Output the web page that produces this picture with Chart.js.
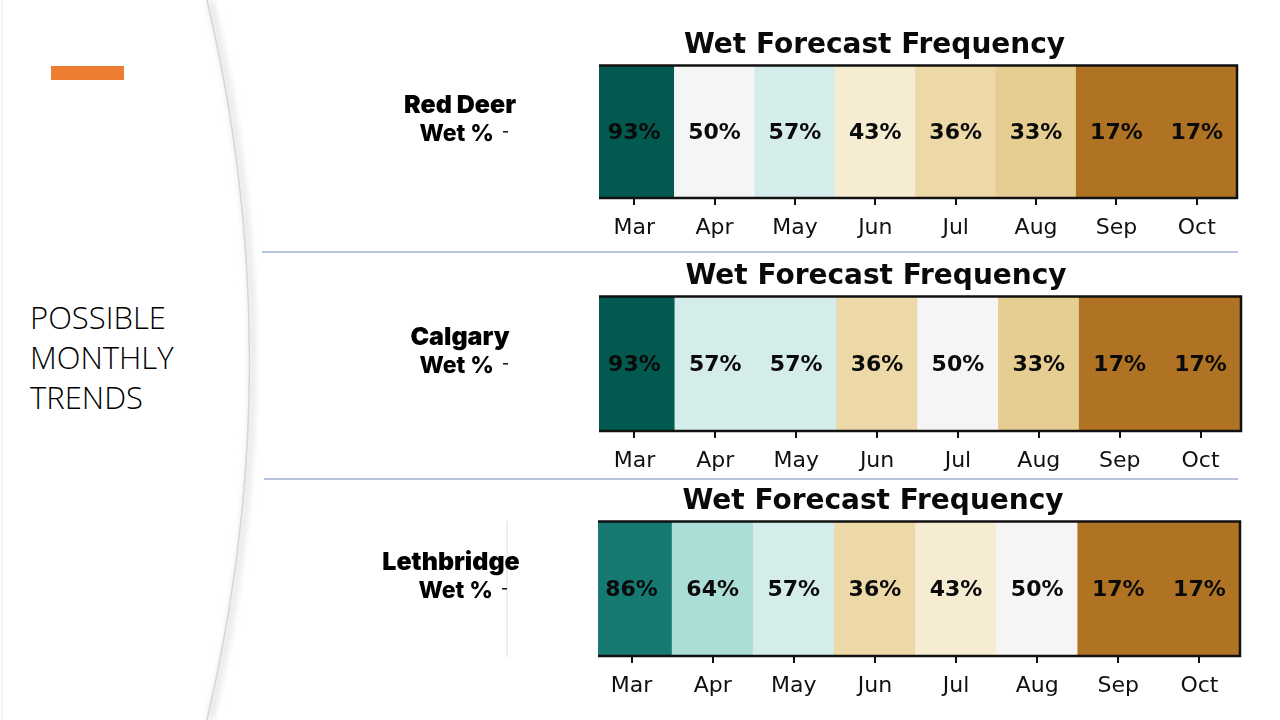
<!DOCTYPE html>
<html>
<head>
<meta charset="utf-8">
<script src="https://cdn.jsdelivr.net/npm/chart.js@4.4.1/dist/chart.umd.min.js"></script>
<style>
  body { margin: 0; width: 1280px; height: 720px; overflow: hidden; background: #fff; position: relative; }
  #deco { position: absolute; left: 0; top: 0; }
  #side { position: absolute; left: 30px; top: 297px; font-family: 'Open Sans', sans-serif; font-weight: 300;
          font-size: 31px; line-height: 40px; color: #000; }
  canvas.row { position: absolute; left: 370px; }
</style>
</head>
<body>
<svg id="deco" width="1280" height="720">
  <defs>
    <filter id="soft" x="-50%" y="-10%" width="200%" height="120%">
      <feGaussianBlur stdDeviation="3"/>
    </filter>
  </defs>
  <line x1="2" y1="0" x2="2" y2="720" stroke="#ececec" stroke-width="1"/>
  <path d="M 210 0 Q 295 360 210 720" fill="none" stroke="#e4e4e4" stroke-width="6" filter="url(#soft)"/>
  <path d="M 207 0 Q 292 360 207 720" fill="none" stroke="#d6d6d6" stroke-width="1.5"/>
  <rect x="51" y="66" width="73" height="14" fill="#ed7d31"/>
  <line x1="262" y1="252" x2="1238" y2="252" stroke="#9fb0cc" stroke-width="1.3"/>
  <line x1="264" y1="479" x2="1238" y2="479" stroke="#9fb0cc" stroke-width="1.3"/>
  <line x1="507" y1="521" x2="507" y2="657" stroke="#dcdcdc" stroke-width="1"/>
</svg>
<div id="side">POSSIBLE<br>MONTHLY<br>TRENDS</div>
<canvas id="c0" class="row" width="910" height="230" style="top:20px"></canvas>
<canvas id="c1" class="row" width="910" height="230" style="top:251px"></canvas>
<canvas id="c2" class="row" width="910" height="230" style="top:476px"></canvas>
<script>
// Data
const months = ['Mar', 'Apr', 'May', 'Jun', 'Jul', 'Aug', 'Sep', 'Oct'];
const cities = ['Red Deer', 'Calgary', 'Lethbridge'];
const redDeerWet = [93, 50, 57, 43, 36, 33, 17, 17];
const calgaryWet = [93, 57, 57, 36, 50, 33, 17, 17];
const lethbridgeWet = [86, 64, 57, 36, 43, 50, 17, 17];
const rowLabel = 'Wet %';
const chartTitle = 'Wet Forecast Frequency';

const wetSeries = [redDeerWet, calgaryWet, lethbridgeWet];

// Layout per row. The source images were cropped a few px into the first
// column, so 'cut' hides that sliver (and the left frame edge).
const rowLayout = [
  { padLeft: 142, padRight: 43, axisWidth: 82, padBottom: 7, cityX: 460, cut: 5 },
  { padLeft: 141, padRight: 39, axisWidth: 83, padBottom: 5, cityX: 460, cut: 5 },
  { padLeft: 136, padRight: 40, axisWidth: 85, padBottom: 5, cityX: 451, cut: 7 }
];

// BrBG colormap (matplotlib), value 0..1
const brbg = ['#543005', '#8c510a', '#bf812d', '#dfc27d', '#f6e8c3', '#f5f5f5',
              '#c7eae5', '#80cdc1', '#35978f', '#01665e', '#003c30'];
function hexToRgb(h) {
  return [parseInt(h.slice(1, 3), 16), parseInt(h.slice(3, 5), 16), parseInt(h.slice(5, 7), 16)];
}
function brbgColor(v) {
  const t = Math.max(0, Math.min(1, v)) * (brbg.length - 1);
  const i = Math.min(Math.floor(t), brbg.length - 2);
  const f = t - i;
  const a = hexToRgb(brbg[i]), b = hexToRgb(brbg[i + 1]);
  const c = a.map((x, k) => Math.round(x + (b[k] - x) * f));
  return `rgb(${c[0]},${c[1]},${c[2]})`;
}

// Cell text, frame and the row label on the left
const heatDecor = {
  id: 'heatDecor',
  beforeDatasetsDraw(chart, args, opts) {
    const { ctx, chartArea: a } = chart;
    ctx.save();
    ctx.beginPath();
    ctx.rect(a.left + opts.cut, a.top, a.width - opts.cut, a.height);
    ctx.clip();
  },
  afterDatasetsDraw(chart, args, opts) {
    const { ctx, chartArea: a } = chart;
    const cy = (a.top + a.bottom) / 2;
    const meta = chart.getDatasetMeta(0);
    ctx.font = 'bold 22px "DejaVu Sans"';
    ctx.fillStyle = '#0a0a0a';
    ctx.textAlign = 'center';
    ctx.textBaseline = 'middle';
    meta.data.forEach((bar, i) => {
      ctx.fillText(opts.values[i] + '%', bar.x, cy + 1);
    });
    ctx.restore();

    // frame: the left side is cropped away in the source
    const left = a.left + opts.cut;
    ctx.save();
    ctx.lineWidth = 2.5;
    ctx.strokeStyle = '#111';
    ctx.beginPath();
    ctx.moveTo(left, a.top);
    ctx.lineTo(a.right, a.top);
    ctx.lineTo(a.right, a.bottom);
    ctx.lineTo(left, a.bottom);
    ctx.stroke();

    // city and row label
    ctx.textAlign = 'center';
    ctx.textBaseline = 'middle';
    const cityX = opts.cityX - chart.canvas.offsetLeft;
    ctx.font = '900 25px Inter, "DejaVu Sans", sans-serif';
    ctx.fillStyle = '#000';
    ctx.fillText(opts.city, cityX, cy - 26);
    ctx.textAlign = 'right';
    ctx.font = '800 23px Inter, "DejaVu Sans", sans-serif';
    ctx.fillText(rowLabel, left - 105, cy + 2);
    ctx.lineWidth = 1.5;
    ctx.beginPath();
    ctx.moveTo(left - 96, cy);
    ctx.lineTo(left - 91, cy);
    ctx.stroke();
    ctx.restore();
  }
};

function makeChart(idx) {
  const values = wetSeries[idx];
  const lay = rowLayout[idx];
  const ctx = document.getElementById('c' + idx).getContext('2d');
  return new Chart(ctx, {
    type: 'bar',
    data: {
      labels: months,
      datasets: [{
        label: rowLabel,
        data: values.map(() => [0, 1]),
        backgroundColor: values.map(v => brbgColor(v / 100)),
        borderWidth: 0,
        barPercentage: 1,
        categoryPercentage: 1
      }]
    },
    options: {
      responsive: false,
      animation: false,
      layout: {
        padding: { left: lay.padLeft, right: lay.padRight, top: 0, bottom: lay.padBottom }
      },
      scales: {
        x: {
          grid: {
            display: true,
            drawOnChartArea: false,
            offset: false,
            tickLength: 7,
            color: '#111',
            lineWidth: 2
          },
          border: { display: false },
          ticks: {
            color: '#111',
            padding: 10,
            font: { family: 'DejaVu Sans', size: 22 }
          },
          afterFit: s => { s.height = 45; }
        },
        y: {
          min: 0,
          max: 1,
          grid: { display: false },
          border: { display: false },
          ticks: { display: false },
          afterFit: s => { s.width = lay.axisWidth; }
        }
      },
      plugins: {
        legend: { display: false },
        tooltip: { enabled: false },
        title: {
          display: true,
          text: chartTitle,
          color: '#0a0a0a',
          font: { family: 'DejaVu Sans', size: 28, weight: 'bold' },
          padding: { top: 9, bottom: 3 }
        },
        heatDecor: { values: values, city: cities[idx], cityX: lay.cityX, cut: lay.cut }
      }
    },
    plugins: [heatDecor]
  });
}

window.addEventListener('load', () => {
  [0, 1, 2].forEach(makeChart);
});
</script>
</body>
</html>
